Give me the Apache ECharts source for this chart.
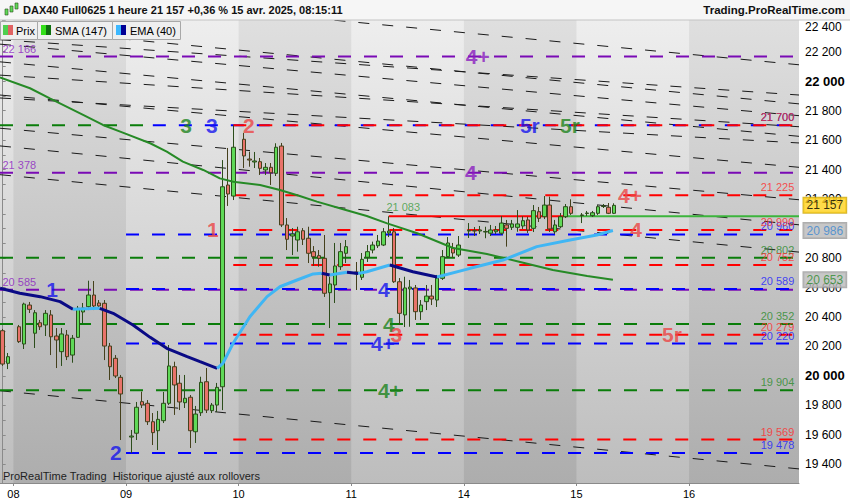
<!DOCTYPE html>
<html>
<head>
<meta charset="utf-8">
<script src="https://cdn.jsdelivr.net/npm/echarts@6.0.0/dist/echarts.min.js"></script>
<style>
html,body{margin:0;padding:0;background:#ffffff;}
#chart{width:850px;height:500px;}
</style>
</head>
<body>
<div id="chart"></div>
<script>
// ------------------------------------------------------------------ data
const dayLabels = ['08','09','10','11','14','15','16'];
const dayStartSlots = [2,23,44,65,86,107,128];
const slotCount = 149;

// hourly candles [open, close, low, high]; null = no candle in that slot
const candles = [
 [20307,20081,20068,20319],[20086,20131,20047,20156],null,
 [20334,20233,20224,20346],[20217,20488,20183,20497],[20481,20452,20427,20502],
 [20290,20429,20190,20447],[20361,20334,20312,20380],[20346,20425,20271,20447],
 [20414,20266,20142,20447],[20271,20244,20054,20325],[20165,20285,20068,20325],
 [20278,20131,20108,20312],[20142,20256,20090,20278],[20262,20459,20258,20475],
 [20434,20461,20359,20495],[20470,20549,20447,20646],[20549,20475,20447,20644],
 [20495,20475,20461,20515],[20493,20203,20108,20515],[20203,20063,19973,20224],
 [20120,20000,19986,20142],[19991,19878,19566,20007],null,
 [19586,19593,19478,19634],[19612,19788,19566,19824],[19826,19803,19783,19894],
 [19815,19690,19668,19837],[19690,19616,19532,19749],[19629,19706,19498,19763],
 [19697,19815,19681,19892],[19815,20068,19803,20210],[20063,19939,19736,20097],
 [19951,19824,19769,20007],[19819,19849,19783,20007],[19856,19629,19512,19871],
 [19622,19742,19546,19797],[19751,19957,19729,19995],[19961,19769,19749,20054],
 [19765,19803,19749,19817],[19803,19923,19756,19953],[19927,21283,19769,21464],
 [21295,21234,21153,21546],[21220,21551,21193,21700],null,
 [21605,21492,21410,21648],[21471,21464,21419,21521],[21451,21458,21410,21519],
 [21453,21408,21363,21478],[21397,21415,21363,21444],[21415,21378,21295,21444],
 [21374,21551,21356,21578],[21559,21024,21010,21580],[21024,20927,20854,21071],
 [20949,20963,20820,21003],[20922,20978,20843,21012],[20985,20927,20888,21003],
 [20934,20832,20766,21012],[20843,20809,20746,20881],[20816,20798,20741,20854],
 [20798,20561,20536,20956],[20565,20624,20325,20673],[20617,20746,20495,20902],
 [20741,20843,20719,20902],[20832,20877,20766,20922],null,
 [20705,20692,20583,20773],[20669,20791,20651,20834],[20805,20843,20773,20888],
 [20854,20888,20832,20911],[20883,20915,20868,20956],[20888,20978,20881,21003],
 [20970,20983,20942,21083],[20978,20639,20631,21003],[20639,20425,20346,20664],
 [20414,20597,20332,20673],[20590,20603,20334,20651],[20597,20436,20380,20617],
 [20436,20481,20380,20515],[20504,20542,20447,20617],[20542,20522,20481,20617],
 [20515,20664,20468,20685],[20662,20809,20651,20854],[20809,20902,20800,20942],
 [20868,20834,20800,20902],[20820,20888,20807,20949],null,
 [20983,20986,20936,21037],[20986,20983,20949,21010],[20983,20990,20963,21017],
 [20976,20980,20934,21012],[20968,20990,20949,21024],[20978,20990,20963,21017],
 [20968,21037,20956,21085],[21024,21001,20877,21058],[21008,21031,20990,21058],
 [21008,21031,20978,21125],[21017,21053,20997,21083],[21058,20990,20970,21080],
 [21001,21121,20976,21159],[21114,21069,21044,21146],[21080,21159,21064,21220],
 [21159,20997,20976,21216],[20978,21024,20963,21058],[21012,21080,21003,21105],
 [21080,21148,21071,21166],[21148,21103,21092,21198],null,
 [21088,21092,21037,21105],[21102,21105,21085,21119],[21087,21107,21078,21119],
 [21103,21148,21092,21159],[21149,21153,21139,21166],[21144,21103,21098,21173],
 [21103,21157,21098,21171]
];
const lastPrice = 21157;

// moving averages: [slot, value]
const smaPoints = [[-0.5,22025],[5.1,21951],[8.8,21883],[15.0,21770],[18.7,21702],[22.4,21650],
 [27.5,21578],[30.6,21521],[33.6,21453],[37.4,21397],[40.5,21340],[43.0,21317],[48.0,21295],
 [51.7,21261],[55.4,21220],[58.6,21182],[63.5,21130],[67.9,21085],[71.7,21035],[77.3,20968],
 [84.0,20868],[90.3,20827],[96.5,20773],[102.6,20719],[109.0,20678],[113.8,20653]];
const emaPoints = [[-0.5,20595],[3.2,20561],[7.0,20538],[10.7,20504],[13.1,20452],[18.1,20459],
 [20.6,20425],[24.3,20346],[27.5,20262],[30.6,20188],[34.4,20131],[36.8,20097],[40.0,20052],
 [41.1,20088],[43.0,20224],[46.1,20402],[49.3,20538],[51.7,20605],[54.9,20651],[57.9,20692],
 [59.5,20697],[61.0,20685],[64.2,20703],[66.3,20695],[67.9,20707],[72.2,20753],[76.5,20707],
 [81.0,20671],[87.2,20730],[93.3,20786],[99.6,20877],[105.8,20922],[110.8,20956],[113.8,20986]];

// horizontal levels (value) and the slot where each starts / ends
const purpleLevels = [22166, 21378, 20585];
const purpleStart  = [-0.5, -0.5, -0.5];
const greenLevels  = [21700, 20802, 20352, 19904];
const greenStart   = [-0.5, -0.5, -0.5, -0.5];
const greenEnd     = [28, null, null, null];
const blueLevels   = [21700, 20960, 20589, 20220, 19478];
const blueStart    = [28, 23, 23, 23, 23];
const redLevels    = [21700, 21225, 20990, 20752, 20279, 19569];
const redStart     = [43, 43, 43, 43, 43, 43];

// resistance drawn from the 21 083 high
const resistanceValue = 21083;
const resistanceStart = 72;
const resistanceTurn  = 104.7;

// diagonal trend lines: value at left edge, value at right edge
const trendLines = [[22630,22110],[22365,21845],[22250,21765],[22130,21625],[22280,21905],
 [21905,21415],[21885,21580],[22040,21690],[21680,21195],[21560,21025],[21365,20840],[19900,19370]];

// big level tags: [group, slot, value, text]
const levelTags = [
 ['purple',88.6,22166,'4+'],['purple',87.3,21378,'4'],
 ['green',34.2,21700,'3'],['blue',39.0,21700,'3'],['red',45.9,21700,'2'],
 ['blue',98.3,21700,'5r'],['green',105.8,21700,'5r'],
 ['red',117.0,21225,'4+'],['red',39.2,20990,'1'],['red',118.1,20990,'4'],
 ['blue',9.2,20589,'1'],['blue',71.1,20589,'4'],['green',72.0,20352,'4'],
 ['red',73.4,20279,'3'],['blue',70.9,20220,'4+'],['red',124.8,20279,'5r'],
 ['green',72.2,19904,'4+'],['blue',21.1,19478,'2']
];

// axis tick values hidden behind the price boxes
const hiddenTicks = [21000];

// ------------------------------------------------------------------ styling / build
const FONT = '"Liberation Sans", Arial, sans-serif';
const fmt = v => String(Math.round(v)).replace(/\B(?=(\d{3})+(?!\d))/g, ' ');
const X0 = -0.5, X1 = slotCount - 0.5;
const lineColors = {purple:'#7a0ab5', green:'#0a7d0a', blue:'#0000ff', red:'#ff0000'};
const textColors = {purple:'#8a20c0', green:'#2a8a2a', blue:'#1a1aff', red:'#ff2a2a'};
const tagColors  = {purple:'#8a1cc0', green:'#1d841d', blue:'#1414ee', red:'#ec4444'};
const DASH = [13,13];

const grad = (a,b) => ({type:'linear',x:0,y:0,x2:0,y2:1,colorStops:[{offset:0,color:a},{offset:1,color:b}]});

const series = [];

// day bands (darker shade for every other day)
const bands = [];
for (let i = 0; i < dayStartSlots.length; i += 2) {
  bands.push([dayStartSlots[i], i + 1 < dayStartSlots.length ? dayStartSlots[i+1] : X1]);
}
series.push({
  type:'line', xAxisIndex:1, yAxisIndex:0, data:[[X0,20000]], symbol:'none',
  lineStyle:{opacity:0}, silent:true, z:0,
  markArea:{silent:true, itemStyle:{color:grad('#dfdfdf','#adadad'), opacity:1, borderWidth:0},
    data: bands.map(([a,b]) => [{xAxis:a},{xAxis:b}])}
});

// diagonal dashed lines
trendLines.forEach(([a,b]) => series.push({
  type:'line', xAxisIndex:1, data:[[X0,a],[X1,b]], symbol:'none', silent:true, z:1, clip:true,
  lineStyle:{color:'#1a1a1a', width:1, type:[11,13]}
}));

function addLevels(group, values, starts, ends, z) {
  values.forEach((v,i) => series.push({
    type:'line', xAxisIndex:1, data:[[starts[i],v],[(ends && ends[i] != null) ? ends[i] : X1, v]],
    symbol:'none', silent:true, z:z, lineStyle:{color:lineColors[group], width:2, type:DASH}
  }));
}
addLevels('purple', purpleLevels, purpleStart, null, 2);
addLevels('green', greenLevels, greenStart, greenEnd, 2);
addLevels('blue', blueLevels, blueStart, null, 2);
addLevels('red', redLevels, redStart, null, 2);

// resistance
series.push({type:'line', xAxisIndex:1, symbol:'none', silent:true, z:3,
  data:[[resistanceStart,resistanceValue],[resistanceTurn,resistanceValue]],
  lineStyle:{color:'#ff0000', width:2}});
series.push({type:'line', xAxisIndex:1, symbol:'none', silent:true, z:3,
  data:[[resistanceTurn,resistanceValue],[X1,resistanceValue]],
  lineStyle:{color:'#3cb43c', width:2}});

// candles
series.push({
  type:'candlestick', xAxisIndex:0, yAxisIndex:0, silent:true, z:4, barWidth:4,
  data: candles.map(c => c || ['-','-','-','-']),
  itemStyle:{color:'#5fd957', color0:'#e8736a', borderColor:'#2c4d1b', borderColor0:'#45401c', borderWidth:1}
});

// moving averages coloured by direction
function addDirectional(points, upColor, downColor, width, z) {
  const runs = [];
  let cur = null;
  for (let i = 0; i < points.length - 1; i++) {
    const up = points[i+1][1] > points[i][1];
    if (!cur || cur.up !== up) { cur = {up, pts:[points[i]]}; runs.push(cur); }
    cur.pts.push(points[i+1]);
  }
  runs.forEach(r => series.push({type:'line', xAxisIndex:1, symbol:'none', silent:true, z:z,
    data:r.pts, lineStyle:{color: r.up ? upColor : downColor, width:width}}));
}
addDirectional(smaPoints, '#45d030', '#268a26', 2, 5);
addDirectional(emaPoints, '#40b6f4', '#0a0a85', 3, 5);

// value labels at right end (above the line) and purple ones at left
function valueLabels(group, values, side) {
  series.push({
    type:'scatter', xAxisIndex:1, silent:true, z:6, clip:false, symbolSize:1,
    itemStyle:{color:'rgba(0,0,0,0)'},
    data: values.map(v => [side === 'left' ? X0 : X1 - 0.4, v]),
    label:{show:true, position: side === 'left' ? 'right' : 'left', distance:2,
      offset:[0,-8], color:textColors[group], fontSize:11, fontFamily:FONT,
      formatter: p => fmt(p.value[1])}
  });
}
valueLabels('purple', purpleLevels, 'left');
valueLabels('green', greenLevels, 'right');
valueLabels('blue', blueLevels, 'right');
valueLabels('red', redLevels, 'right');

// big tags
['purple','green','blue','red'].forEach(g => series.push({
  type:'scatter', xAxisIndex:1, silent:true, z:7, clip:false, symbolSize:1,
  itemStyle:{color:'rgba(0,0,0,0)'},
  data: levelTags.filter(t => t[0] === g).map(t => ({value:[t[1], t[2]], tag:t[3]})),
  label:{show:true, position:'inside', color:tagColors[g], fontSize:21, fontWeight:'bold',
    fontFamily:FONT, formatter: p => p.data.tag}
}));

// resistance label
series.push({type:'scatter', xAxisIndex:1, silent:true, z:7, symbolSize:1,
  itemStyle:{color:'rgba(0,0,0,0)'}, data:[[resistanceStart + 2.7, resistanceValue]],
  label:{show:true, position:'top', distance:3, color:'#3a9a3a', fontSize:11, fontFamily:FONT,
    formatter: p => fmt(p.value[1])}});

// price boxes on the right axis
function priceBox(value, textColor, bg, border, z) {
  series.push({type:'scatter', xAxisIndex:1, silent:true, zlevel:1, z:z, clip:false, symbolSize:1,
    itemStyle:{color:'rgba(0,0,0,0)'}, data:[[X1, value]],
    label:{show:true, position:'right', distance:4, color:textColor, fontSize:12, fontFamily:FONT,
      backgroundColor:bg, borderColor:border, borderWidth:1, padding:[2,3,1,3],
      formatter: p => fmt(p.value[1])}});
}
priceBox(smaPoints[smaPoints.length-1][1], '#2e8b2e', '#b9b9b9', '#9a9a9a', 8);
priceBox(emaPoints[emaPoints.length-1][1], '#3a86d0', '#b9b9b9', '#9a9a9a', 9);
priceBox(lastPrice, '#000000', '#ffd21c', '#c9a200', 10);

// ------------------------------------------------------------------ chart
const chart = echarts.init(document.getElementById('chart'), null, {renderer:'svg', width:850, height:500});
chart.setOption({
  animation:false,
  backgroundColor:'#ffffff',
  grid:{left:0, right:51, top:20, bottom:17, show:true, borderWidth:0,
    backgroundColor: grad('#eeeeee','#bdbdbd')},
  xAxis:[
    {type:'category', data:Array.from({length:slotCount}, (_,i) => String(i)), boundaryGap:true,
     axisLine:{lineStyle:{color:'#8a8a8a'}},
     axisTick:{show:true, length:3, interval:(i) => dayStartSlots.includes(i), alignWithLabel:true, lineStyle:{color:'#8a8a8a'}},
     axisLabel:{interval:(i) => dayStartSlots.includes(i), color:'#000', fontSize:11, fontFamily:FONT, margin:5,
       formatter:(v) => { const k = dayStartSlots.indexOf(Number(v)); return k >= 0 ? dayLabels[k] : ''; }},
     splitLine:{show:false}},
    {type:'value', min:X0, max:X1, show:false}
  ],
  yAxis:{type:'value', position:'right', min:19274.5, max:22413.7, splitNumber:15,
    splitLine:{show:false},
    axisLine:{show:true, lineStyle:{color:'#8a8a8a'}},
    axisTick:{show:true, length:3, lineStyle:{color:'#8a8a8a'}},
    minorTick:{show:true, splitNumber:2, length:3, lineStyle:{color:'#8a8a8a'}},
    axisLabel:{margin:6, color:'#000', fontSize:12, fontFamily:FONT,
      formatter:(v) => {
        if (Math.abs(v % 200) > 0.01) return '';
        if (hiddenTicks.includes(v)) return '';
        if (v % 1000 === 0) return '{b|' + fmt(v) + '}';
        if (v === 22400) return '{t|' + fmt(v) + '}';
        return fmt(v);
      },
      rich:{b:{fontWeight:'bold', fontSize:13, color:'#000', fontFamily:FONT},
            t:{padding:[10,0,0,0], fontSize:12, color:'#000', fontFamily:FONT}}}},
  graphic:[
    {type:'rect', z:100, shape:{x:0,y:0,width:850,height:20}, style:{fill:'#f6f6f6'}},
    {type:'line', z:100, shape:{x1:0,y1:20,x2:850,y2:20}, style:{stroke:'#c4c4c4', lineWidth:1}},
    {type:'rect', z:101, shape:{x:5,y:9,width:3,height:6}, style:{fill:'#5fd957', stroke:'#2c4d1b', lineWidth:0.6}},
    {type:'rect', z:101, shape:{x:10,y:6,width:3,height:6}, style:{fill:'#5fd957', stroke:'#2c4d1b', lineWidth:0.6}},
    {type:'rect', z:101, shape:{x:15,y:3,width:3,height:6}, style:{fill:'#5fd957', stroke:'#2c4d1b', lineWidth:0.6}},
    {type:'text', z:101, x:23, y:10, style:{text:'DAX40 Full0625 1 heure 21 157 +0,36 % 15 avr. 2025, 08:15:11',
      font:'bold 11px "Liberation Sans", Arial, sans-serif', fill:'#111', verticalAlign:'middle'}},
    {type:'text', z:101, x:845, y:10, style:{text:'Trading.ProRealTime.com',
      font:'bold 11.5px "Liberation Sans", Arial, sans-serif', fill:'#111', verticalAlign:'middle', align:'right'}},
    // legend boxes
    {type:'rect', z:100, shape:{x:0.5,y:21.5,width:37,height:18}, style:{fill:'#efefef', stroke:'#a8a8a8', lineWidth:1}},
    {type:'rect', z:100, shape:{x:37.5,y:21.5,width:75,height:18}, style:{fill:'#efefef', stroke:'#a8a8a8', lineWidth:1}},
    {type:'rect', z:100, shape:{x:112.5,y:21.5,width:68,height:18}, style:{fill:'#efefef', stroke:'#a8a8a8', lineWidth:1}},
    {type:'rect', z:101, shape:{x:3,y:25,width:5,height:10}, style:{fill:'#4fcf4f'}},
    {type:'rect', z:101, shape:{x:8,y:25,width:5,height:10}, style:{fill:'#e06262'}},
    {type:'rect', z:101, shape:{x:41,y:25,width:5,height:10}, style:{fill:'#33e01a'}},
    {type:'rect', z:101, shape:{x:46,y:25,width:5,height:10}, style:{fill:'#0f700f'}},
    {type:'rect', z:101, shape:{x:116,y:25,width:5,height:10}, style:{fill:'#3cb8ff'}},
    {type:'rect', z:101, shape:{x:121,y:25,width:5,height:10}, style:{fill:'#000096'}},
    {type:'text', z:101, x:16, y:30.5, style:{text:'Prix', font:'11px "Liberation Sans", Arial, sans-serif', fill:'#000', verticalAlign:'middle'}},
    {type:'text', z:101, x:55, y:30.5, style:{text:'SMA (147)', font:'11px "Liberation Sans", Arial, sans-serif', fill:'#000', verticalAlign:'middle'}},
    {type:'text', z:101, x:130, y:30.5, style:{text:'EMA (40)', font:'11px "Liberation Sans", Arial, sans-serif', fill:'#000', verticalAlign:'middle'}},
    // footer note
    {type:'text', z:101, x:3, y:476, style:{text:'ProRealTime Trading  Historique ajusté aux rollovers',
      font:'11px "Liberation Sans", Arial, sans-serif', fill:'#1e1e1e', verticalAlign:'middle'}}
  ],
  series: series
});
</script>
</body>
</html>
